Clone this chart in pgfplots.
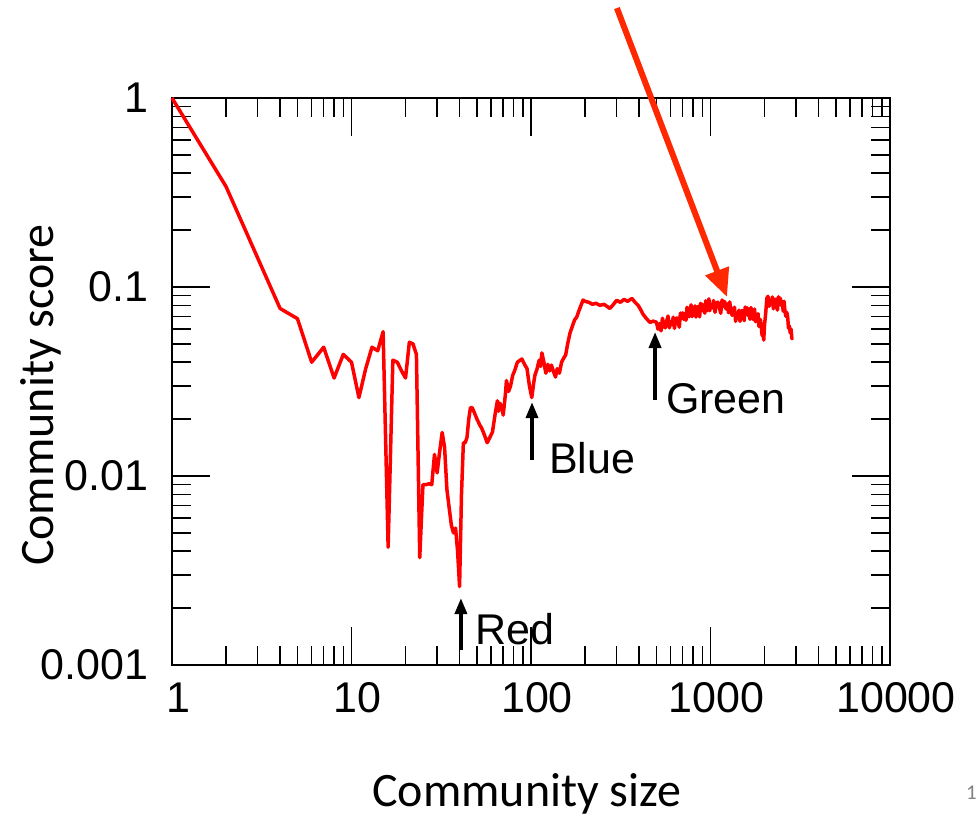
\documentclass[border=0pt]{standalone}
\usepackage{pgfplots}
\pgfplotsset{compat=1.18}
\usepackage{fontspec}
\setmainfont{Liberation Sans}
\newfontfamily\calibri{Carlito}
\usetikzlibrary{arrows.meta}
\definecolor{arrowred}{RGB}{255,40,0}
\begin{document}
\begin{tikzpicture}
\path[use as bounding box] (0,0) rectangle (978pt,819pt);
\begin{axis}[
  at={(172pt,154pt)}, anchor=south west,
  scale only axis, width=718pt, height=567pt,
  xmode=log, ymode=log,
  xmin=1, xmax=10000, ymin=0.001, ymax=1,
  xtick={1,10,100,1000,10000}, xticklabels={1,10,100,1000,10000},
  ytick={0.001,0.01,0.1,1}, yticklabels={0.001,0.01,0.1,1},
  minor xtick={2,3,4,5,6,7,8,9,20,30,40,50,60,70,80,90,200,300,400,500,600,700,800,900,2000,3000,4000,5000,6000,7000,8000,9000},
  minor ytick={0.002,0.003,0.004,0.005,0.006,0.007,0.008,0.009,0.02,0.03,0.04,0.05,0.06,0.07,0.08,0.09,0.2,0.3,0.4,0.5,0.6,0.7,0.8,0.9},
  major tick length=38pt, minor tick length=19pt,
  tick align=inside,
  xtick pos=both, ytick pos=both,
  every tick/.style={black, line width=1.5pt},
  axis line style={line width=1.5pt},
  tick label style={font=\fontsize{43}{48}\selectfont},
  xticklabel style={yshift=-14pt, xshift=6pt},
  yticklabel style={xshift=-20pt},
  xlabel={\calibri Community size},
  ylabel={\calibri Community score},
  xlabel style={font=\fontsize{48}{56}\selectfont, at={(axis description cs:0.4944,-0.2504)}, anchor=base},
  ylabel style={font=\fontsize{48}{56}\selectfont, at={(axis description cs:-0.1657,0.476)}, anchor=base},
  clip=false,
]
\addplot[color=red, line width=3.5pt, line join=round] coordinates {
(1,1) (2,0.34) (4,0.077) (5,0.068) (6,0.040) (7,0.048) (8,0.033) (9,0.044) (10,0.040)
(11,0.026) (12,0.037) (13,0.048) (14,0.046) (15,0.058) (16,0.0042) (17,0.041) (18,0.040)
(19,0.036) (20,0.033) (21,0.051) (22,0.050) (23,0.044) (24,0.0037) (25,0.009) (26,0.0090)
(27,0.0091) (28,0.009) (29,0.013) (30,0.0104) (31,0.0135) (32,0.017) (33,0.0142) (34,0.0085)
(35,0.0068) (36,0.0055) (37,0.0050) (38,0.0053) (39,0.0040) (40,0.0026) (41,0.0080) (42,0.015)
(43,0.0150) (44,0.016) (45,0.020) (46,0.023) (47,0.023) (48,0.022) (50,0.020) (52,0.0185)
(53,0.018) (55,0.0165) (57,0.015) (59,0.016) (61,0.0171) (63,0.021) (65,0.025) (66,0.022)
(67,0.0243) (69,0.023) (70,0.021) (72,0.027) (73,0.032) (75,0.028) (77,0.030) (79,0.034)
(81,0.036) (84,0.040) (87,0.041) (89,0.0416) (92,0.039) (95,0.037) (98,0.030) (101,0.026)
(103,0.030) (105,0.034) (108,0.0368) (111,0.041) (113,0.038) (115,0.0448) (118,0.040)
(121,0.035) (124,0.039) (127,0.036) (130,0.0386) (133,0.036) (137,0.0334) (140,0.037)
(144,0.035) (148,0.040) (152,0.042) (156,0.0437) (160,0.050) (165,0.0571) (170,0.062)
(175,0.067) (180,0.0694) (185,0.075) (190,0.080) (195,0.0853) (200,0.084) (210,0.083)
(220,0.081) (230,0.082) (242,0.080) (255,0.081) (265,0.079) (275,0.077) (285,0.080)
(300,0.085) (315,0.083) (330,0.086) (345,0.084) (365,0.087) (380,0.083) (395,0.080)
(405,0.077) (420,0.072) (440,0.068) (460,0.065) (480,0.066)
(500,0.0651) (510,0.0598) (520,0.0640) (530,0.0586) (540,0.0684) (550,0.0624) (560,0.0608)
(570,0.0661) (580,0.0702) (590,0.0608) (600,0.0655) (610,0.0631) (620,0.0692) (630,0.0604)
(640,0.0678) (650,0.0686) (660,0.0654) (670,0.0613) (680,0.0729) (690,0.0681) (700,0.0730)
(710,0.0674) (720,0.0723) (730,0.0666) (740,0.0781) (750,0.0715) (760,0.0696) (770,0.0758)
(780,0.0805) (790,0.0697) (800,0.0751) (810,0.0725) (820,0.0795) (830,0.0693) (840,0.0778)
(850,0.0788) (860,0.0746) (870,0.0695) (880,0.0820) (890,0.0762) (900,0.0811) (910,0.0744)
(920,0.0794) (930,0.0726) (940,0.0846) (950,0.0770) (960,0.0750) (970,0.0815) (980,0.0866)
(990,0.0749) (1000,0.0808) (1020,0.0776) (1040,0.0848) (1060,0.0735) (1080,0.0823)
(1100,0.0831) (1120,0.0783) (1140,0.0726) (1160,0.0854) (1180,0.0790) (1200,0.0838)
(1220,0.0765) (1240,0.0813) (1260,0.0731) (1280,0.0834) (1300,0.0743) (1320,0.0708)
(1340,0.0753) (1360,0.0782) (1380,0.0658) (1400,0.0711) (1420,0.0686) (1440,0.0754)
(1460,0.0658) (1480,0.0740) (1500,0.0751) (1520,0.0711) (1540,0.0663) (1560,0.0784)
(1580,0.0729) (1600,0.0777) (1620,0.0706) (1640,0.0745) (1660,0.0675) (1680,0.0779)
(1700,0.0702) (1720,0.0675) (1740,0.0727) (1760,0.0765) (1780,0.0655) (1800,0.0699)
(1820,0.0666) (1840,0.0723) (1860,0.0618) (1880,0.0676) (1900,0.0666) (1920,0.0612)
(1940,0.0553) (1960,0.0571) (1980,0.0524) (2000,0.0630) (2030,0.0728) (2060,0.0872)
(2090,0.0893) (2120,0.0790) (2150,0.0848) (2180,0.0813) (2210,0.0886) (2240,0.0767)
(2270,0.0857) (2300,0.0863) (2330,0.0813) (2360,0.0755) (2390,0.0888) (2420,0.0822)
(2450,0.0872) (2480,0.0797) (2510,0.0839) (2540,0.0745) (2570,0.0841) (2600,0.0743)
(2630,0.0699) (2660,0.0735) (2690,0.0698) (2720,0.0605) (2750,0.0623) (2780,0.0572)
(2810,0.0599) (2840,0.0534) (2880,0.0537)
};
% annotation arrows
\draw[line width=3.5pt, -{Triangle[length=16pt,width=12pt]}] (axis cs:40.7,0.0012) -- (axis cs:40.7,0.00226);
\node[anchor=base west, inner sep=0pt, font=\fontsize{43}{50}\selectfont] at (axis cs:48.8,0.00128) {Red};
\draw[line width=3.5pt, -{Triangle[length=16pt,width=12pt]}] (axis cs:101.3,0.01216) -- (axis cs:101.3,0.0246);
\node[anchor=base west, inner sep=0pt, font=\fontsize{43}{50}\selectfont] at (axis cs:126,0.01037) {Blue};
\draw[line width=3.5pt, -{Triangle[length=16pt,width=12pt]}] (axis cs:491,0.0252) -- (axis cs:491,0.0578);
\node[anchor=base west, inner sep=0pt, font=\fontsize{43}{50}\selectfont] at (axis cs:565,0.0213) {Green};
\draw[arrowred, line width=6pt, -{Triangle[length=28pt,width=24pt]}] (axis cs:301,2.99) -- (axis cs:1236,0.0885);
\end{axis}
\node[anchor=base west, inner sep=0pt, text=gray, font=\calibri\fontsize{21}{24}\selectfont] at (966pt,19pt) {1};
\end{tikzpicture}
\end{document}
